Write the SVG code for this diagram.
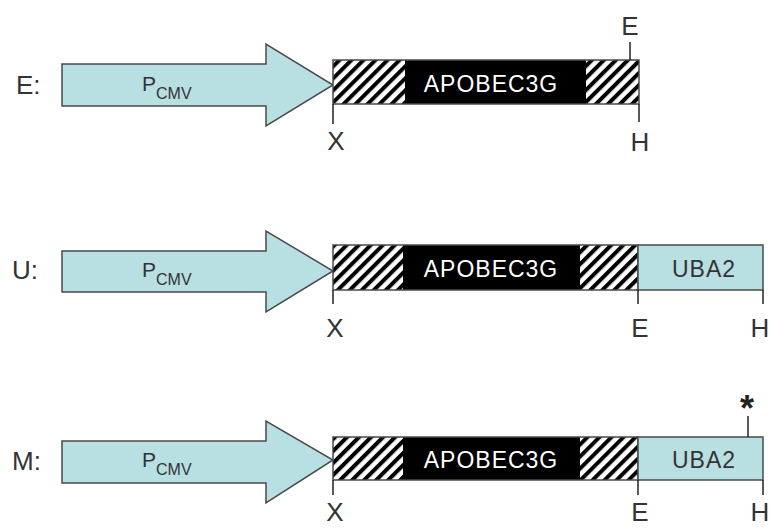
<svg xmlns="http://www.w3.org/2000/svg" width="771" height="528" viewBox="0 0 771 528">
<defs>
<pattern id="hatch" patternUnits="userSpaceOnUse" width="8.5" height="8.5" patternTransform="rotate(45)">
<rect x="0" y="0" width="8.5" height="8.5" fill="#fff"/>
<rect x="0" y="0" width="4" height="8.5" fill="#000"/>
</pattern>
</defs>
<style>
.arrow{fill:#b8dfe2;stroke:#4a4a4a;stroke-width:1.5;stroke-linejoin:miter}
.hat{fill:url(#hatch);stroke:none}
.blk{fill:#000}
.uba{fill:#b8dfe2;stroke:#4a4a4a;stroke-width:1.5}
.frame{fill:none;stroke:#4a4a4a;stroke-width:1.5}
.tick{stroke:#222;stroke-width:1.5}
.lab{font-family:"Liberation Sans",Arial,sans-serif;font-size:26px;fill:#333}
.site{font-family:"Liberation Sans",Arial,sans-serif;font-size:26px;fill:#333;text-anchor:middle}
.gene{font-family:"Liberation Sans",Arial,sans-serif;font-size:23px;letter-spacing:1px;fill:#fff;text-anchor:middle}
.ubat{font-family:"Liberation Sans",Arial,sans-serif;font-size:23px;letter-spacing:1px;fill:#333;text-anchor:middle}
.p{font-family:"Liberation Sans",Arial,sans-serif;font-size:21px;fill:#333}
.sub{font-size:16px}
.star{font-family:"Liberation Sans",Arial,sans-serif;font-size:36px;font-weight:bold;fill:#222;text-anchor:middle}
</style>

<g id="rowE">
<text class="lab" x="16" y="94">E:</text>
<g id="promE">
<polygon class="arrow" points="62,64 266,64 266,44 333,85 266,126 266,106 62,106"/>
<text class="p" x="142" y="91">P<tspan class="sub" dy="8">CMV</tspan></text>
</g>
<g id="geneE">
<rect class="hat" x="333" y="60" width="72" height="44"/>
<rect class="blk" x="405" y="60" width="181" height="44"/>
<rect class="hat" x="586" y="60" width="53" height="44"/>
<rect class="frame" x="333" y="60" width="306" height="44"/>
<text class="gene" x="491" y="92">APOBEC3G</text>
</g>
</g>

<g id="rowU">
<text class="lab" x="12" y="279">U:</text>
<g id="promU">
<polygon class="arrow" points="62,251 266,251 266,231 333,271 266,312 266,292 62,292"/>
<text class="p" x="142" y="277">P<tspan class="sub" dy="8">CMV</tspan></text>
</g>
<g id="geneU">
<rect class="hat" x="333" y="245" width="70" height="45"/>
<rect class="blk" x="403" y="245" width="177" height="45"/>
<rect class="hat" x="580" y="245" width="58" height="45"/>
<rect class="frame" x="333" y="245" width="305" height="45"/>
<rect class="uba" x="638" y="245" width="125" height="45"/>
<text class="gene" x="491" y="277">APOBEC3G</text>
<text class="ubat" x="704" y="277">UBA2</text>
</g>
</g>

<g id="rowM">
<text class="lab" x="12" y="470">M:</text>
<g id="promM">
<polygon class="arrow" points="62,441 266,441 266,421 333,460 266,503 266,483 62,483"/>
<text class="p" x="142" y="467">P<tspan class="sub" dy="8">CMV</tspan></text>
</g>
<g id="geneM">
<rect class="hat" x="333" y="437" width="70" height="43"/>
<rect class="blk" x="403" y="437" width="177" height="43"/>
<rect class="hat" x="580" y="437" width="58" height="43"/>
<rect class="frame" x="333" y="437" width="305" height="43"/>
<rect class="uba" x="638" y="437" width="125" height="43"/>
<text class="gene" x="491" y="468">APOBEC3G</text>
<text class="ubat" x="704" y="468">UBA2</text>
</g>
</g>

<g id="sites">
<line class="tick" x1="630" y1="42" x2="630" y2="60"/>
<line class="tick" x1="333" y1="104" x2="333" y2="124"/>
<line class="tick" x1="639" y1="104" x2="639" y2="122"/>
<text class="site" x="630" y="35">E</text>
<text class="site" x="336" y="150">X</text>
<text class="site" x="640" y="151">H</text>

<line class="tick" x1="333" y1="290" x2="333" y2="304"/>
<line class="tick" x1="638" y1="290" x2="638" y2="304"/>
<line class="tick" x1="763" y1="290" x2="763" y2="304"/>
<text class="site" x="335" y="337">X</text>
<text class="site" x="640" y="337">E</text>
<text class="site" x="760" y="337">H</text>

<line class="tick" x1="748" y1="416" x2="748" y2="437"/>
<line class="tick" x1="333" y1="480" x2="333" y2="495"/>
<line class="tick" x1="638" y1="480" x2="638" y2="495"/>
<line class="tick" x1="763" y1="480" x2="763" y2="495"/>
<text class="star" x="747" y="421">*</text>
<text class="site" x="335" y="521">X</text>
<text class="site" x="640" y="521">E</text>
<text class="site" x="760" y="521">H</text>
</g>
</svg>
